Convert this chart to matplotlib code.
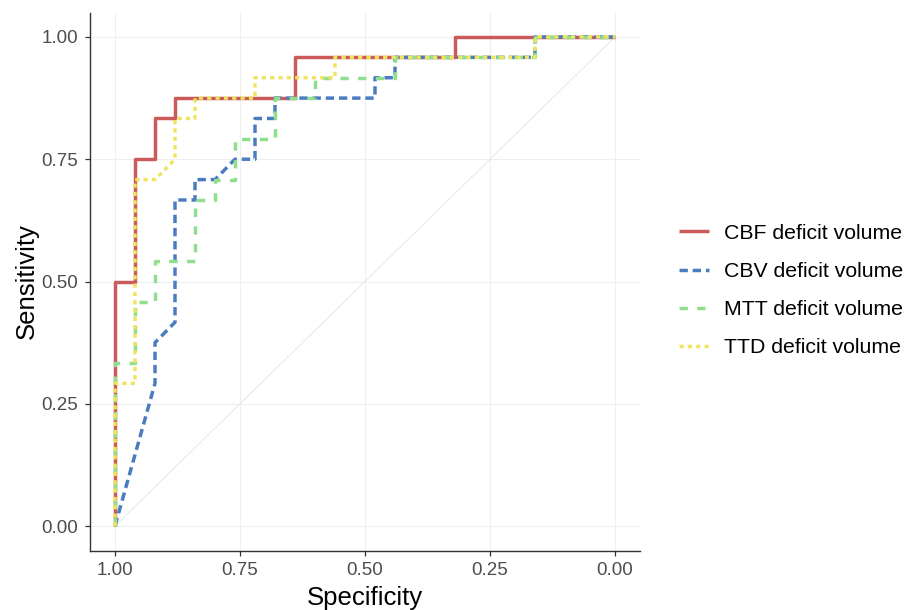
import matplotlib
matplotlib.use("Agg")
import matplotlib.pyplot as plt
import numpy as np

plt.rcParams['font.family'] = ['Liberation Sans', 'DejaVu Sans']

N_POS = 24

# ROC points (specificity, sensitivity counts out of 24 positives)
cbf_spec = [1, 1, 0.96, 0.96, 0.92, 0.92, 0.88, 0.88, 0.64, 0.64, 0.32, 0.32, 0]
cbf_sens = [0, 12, 12, 18, 18, 20, 20, 21, 21, 23, 23, 24, 24]

cbv_spec = [1, 0.92, 0.92, 0.88, 0.88, 0.84, 0.84, 0.80, 0.76, 0.72, 0.72, 0.68, 0.68,
            0.48, 0.48, 0.44, 0.44, 0.16, 0.16, 0]
cbv_sens = [0, 7, 9, 10, 16, 16, 17, 17, 18, 18, 20, 20, 21, 21, 22, 22, 23, 23, 24, 24]

mtt_spec = [1, 1, 0.96, 0.96, 0.92, 0.92, 0.84, 0.84, 0.80, 0.80, 0.76, 0.76, 0.68, 0.68,
            0.60, 0.60, 0.44, 0.44, 0.16, 0.16, 0]
mtt_sens = [0, 8, 8, 11, 11, 13, 13, 16, 16, 17, 17, 19, 19, 21, 21, 22, 22, 23, 23, 24, 24]

ttd_spec = [1, 1, 0.96, 0.96, 0.92, 0.88, 0.88, 0.84, 0.84, 0.72, 0.72, 0.56, 0.56, 0.16, 0.16, 0]
ttd_sens = [0, 7, 7, 17, 17, 18, 20, 20, 21, 21, 22, 22, 23, 23, 24, 24]

labels = ["CBF deficit volume", "CBV deficit volume", "MTT deficit volume", "TTD deficit volume"]
colors = ["#CB5A5A", "#4A7CBF", "#8FDF8F", "#EFE45E"]
styles = ["-", (0, (2.4, 1.4)), (0, (2.4, 2.7)), (0, (1.2, 1.2))]

ticks = [0.00, 0.25, 0.50, 0.75, 1.00]
tick_labels = ["0.00", "0.25", "0.50", "0.75", "1.00"]

fig = plt.figure(figsize=(9.08, 6.10), dpi=100)
ax = fig.add_axes([90/908, 1 - 550.5/610, (640-90)/908, (550.5-12.5)/610])

ax.plot([1, 0], [0, 1], color="#E3E3E3", lw=0.6, zorder=1)

series = [(cbf_spec, cbf_sens), (cbv_spec, cbv_sens), (mtt_spec, mtt_sens), (ttd_spec, ttd_sens)]
for (sp, se), lab, col, ls in zip(series, labels, colors, styles):
    ax.plot(sp, np.array(se) / N_POS, color=col, lw=2.5, linestyle=ls, label=lab,
            zorder=3, solid_capstyle='butt', dash_capstyle='butt')

ax.set_xlim(1.05, -0.05)
ax.set_ylim(-0.05, 1.05)
ax.set_xticks(ticks)
ax.set_xticklabels(tick_labels)
ax.set_yticks(ticks)
ax.set_yticklabels(tick_labels)
ax.grid(True, color="#EFEFEF", lw=0.8, zorder=0)
ax.set_axisbelow(True)
for s in ["top", "right"]:
    ax.spines[s].set_visible(False)
for s in ["left", "bottom"]:
    ax.spines[s].set_color("#333333")
    ax.spines[s].set_linewidth(1.0)
ax.tick_params(axis="both", length=3.5, width=0.9, color="#333333",
               labelsize=13.5, labelcolor="#4D4D4D", pad=5)
ax.set_xlabel("Specificity", fontsize=18.5, labelpad=5)
ax.set_ylabel("Sensitivity", fontsize=18.5, labelpad=2)

fig.legend(loc="center left", bbox_to_anchor=(679/908, 1 - 290.5/610), frameon=False,
           fontsize=15.3, handlelength=1.42, handletextpad=0.7, labelspacing=0.9,
           borderpad=0, borderaxespad=0)

fig.savefig("out.png", dpi=100)
